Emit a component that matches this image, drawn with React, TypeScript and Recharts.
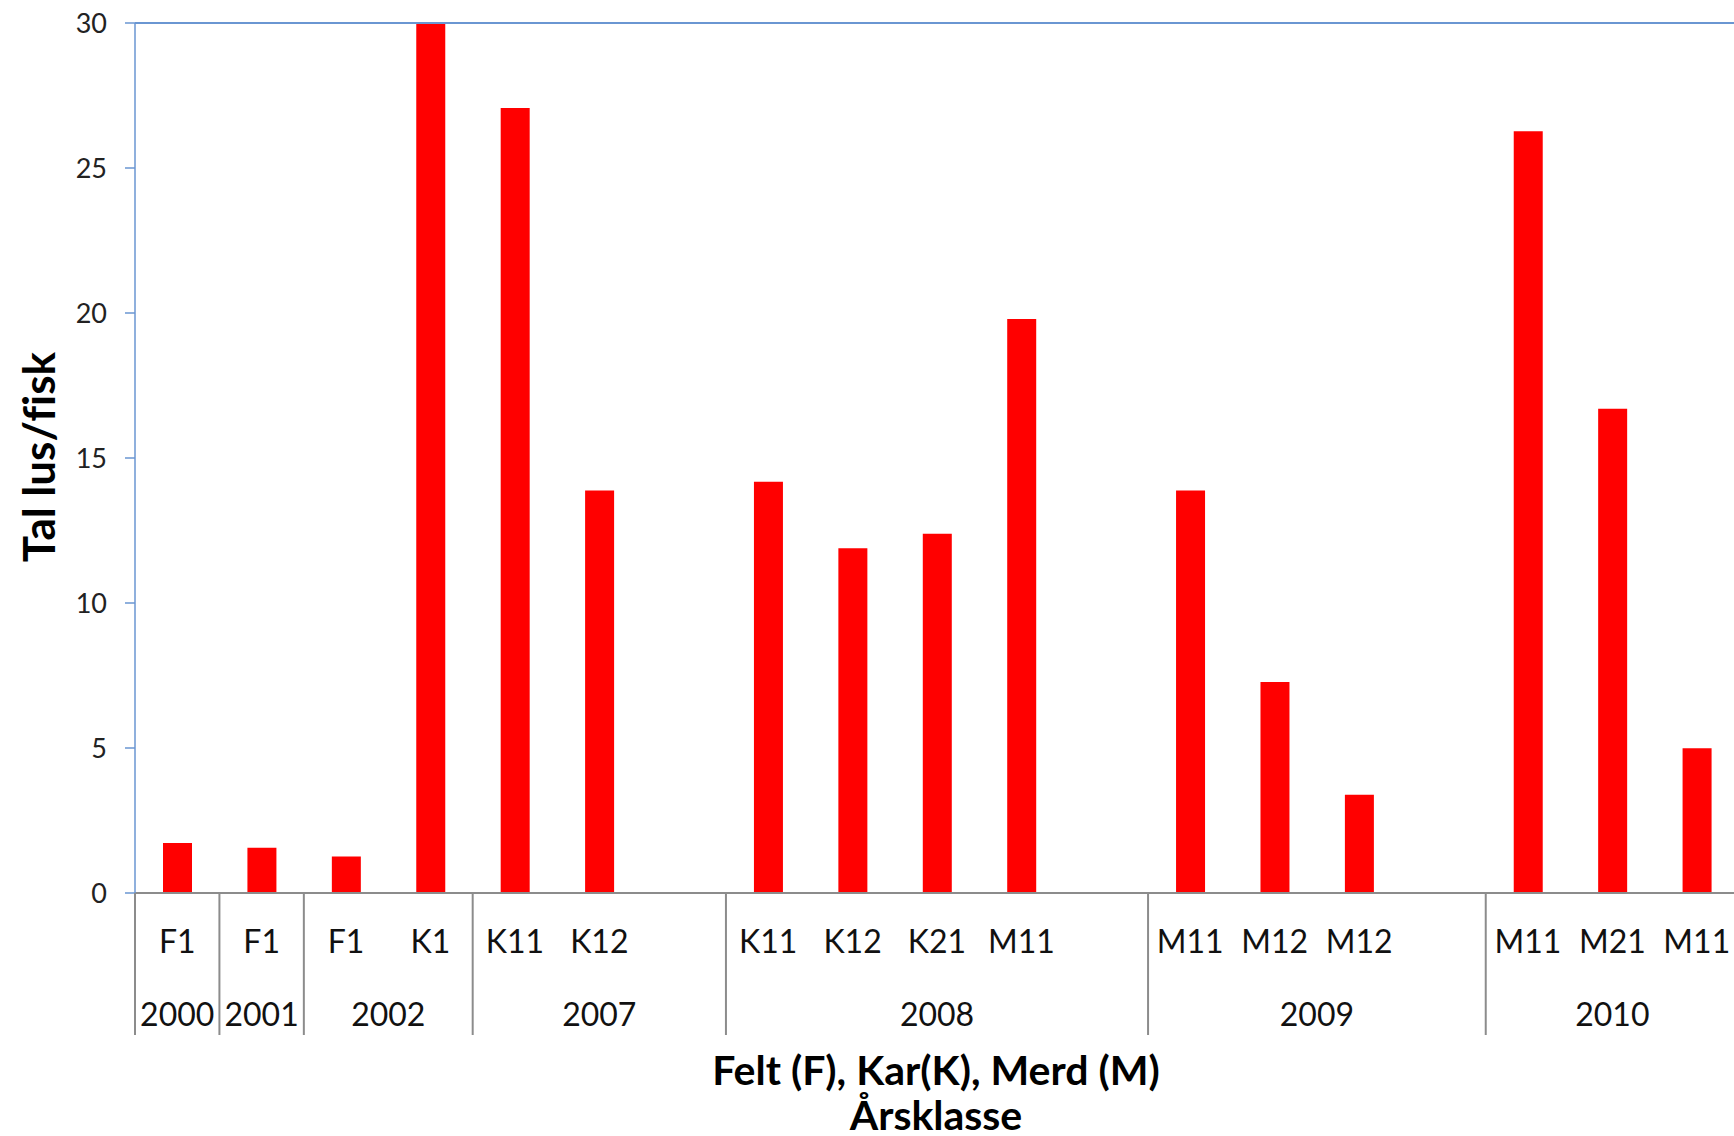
import React from 'react';
import { BarChart, Bar, XAxis, YAxis, ReferenceLine } from 'recharts';

// category labels (first row under the axis)
const labels = ['F1', 'F1', 'F1', 'K1', 'K11', 'K12', '', 'K11', 'K12', 'K21', 'M11', '', 'M11', 'M12', 'M12', '', 'M11', 'M21', 'M11'];
// year class for each category (second row)
const years = ['2000', '2001', '2002', '2002', '2007', '2007', '2007', '2008', '2008', '2008', '2008', '2008', '2009', '2009', '2009', '2009', '2010', '2010', '2010'];
// lice per fish
const values = [1.72, 1.56, 1.26, 30, 27.07, 13.88, null, 14.18, 11.89, 12.39, 19.79, null, 13.88, 7.28, 3.39, null, 26.27, 16.7, 4.99];
const yTicks = [0, 5, 10, 15, 20, 25, 30];

const data = labels.map((label, i) => ({ id: i, label, year: years[i], value: values[i] }));

const CHART_W = 1745;
const CHART_H = 1136;
const MARGIN = { top: 23, right: 6, bottom: 93, left: 55 };
const Y_AXIS_W = 80;
const PLOT_W = CHART_W - MARGIN.left - MARGIN.right - Y_AXIS_W;
const SLOT = PLOT_W / labels.length;

const FONT = 'Lato, "Open Sans", sans-serif';
const GREY = '#8c8c8c';
const BLUE = '#6a96d2';
const NO_LIGA = { fontVariantLigatures: 'none' } as React.CSSProperties;

const XTick = (props: any) => {
  const { x, y, payload } = props;
  const i = payload.value as number;
  const isStart = i === 0 || years[i] !== years[i - 1];
  let groupLen = 0;
  if (isStart) {
    let j = i;
    while (j < years.length && years[j] === years[i]) { j++; groupLen++; }
  }
  const left = x - SLOT / 2;
  return (
    <g>
      <text x={x} y={y + 47} textAnchor="middle" dominantBaseline="central" fontSize={32} fontFamily={FONT} fill="#111">
        {labels[i]}
      </text>
      {isStart && (
        <>
          <line x1={left} x2={left} y1={y} y2={y + 142} stroke={GREY} strokeWidth={2} />
          <text x={left + (groupLen * SLOT) / 2} y={y + 120} textAnchor="middle" dominantBaseline="central" fontSize={32} fontFamily={FONT} fill="#111">
            {years[i]}
          </text>
        </>
      )}
    </g>
  );
};

const App: React.FC = () => {
  return (
    <div style={{ position: 'fixed', left: 0, top: 0, width: 1734, height: 1136, overflow: 'hidden', background: '#fff' }}>
      <BarChart width={CHART_W} height={CHART_H} data={data} margin={MARGIN} barCategoryGap={0}>
        <XAxis
          dataKey="id"
          type="category"
          height={150}
          interval={0}
          tickSize={0}
          tickMargin={0}
          tickLine={false}
          axisLine={{ stroke: GREY, strokeWidth: 2 }}
          tick={<XTick />}
        />
        <YAxis
          width={Y_AXIS_W}
          domain={[0, 30]}
          ticks={yTicks}
          interval={0}
          tickSize={10}
          tickMargin={18}
          axisLine={{ stroke: BLUE, strokeWidth: 1.5 }}
          tickLine={{ stroke: BLUE, strokeWidth: 1.5 }}
          tick={{ fontSize: 27, fontFamily: FONT, fill: '#222' }}
        />
        <ReferenceLine y={30} stroke={BLUE} strokeWidth={2} />
        <Bar dataKey="value" fill="#ff0000" barSize={29} isAnimationActive={false} />
      </BarChart>
      <svg width={1734} height={1136} style={{ position: 'absolute', left: 0, top: 0, pointerEvents: 'none' }}>
        <text x={55} y={457} transform="rotate(-90 55 457)" textAnchor="middle" fontSize={44} fontWeight="bold" fontFamily={FONT} fill="#000" style={NO_LIGA}>
          Tal lus/fisk
        </text>
        <text x={936} y={1085} textAnchor="middle" fontSize={41} fontWeight="bold" fontFamily={FONT} fill="#000">
          Felt (F), Kar(K), Merd (M)
        </text>
        <text x={936} y={1130} textAnchor="middle" fontSize={41} fontWeight="bold" fontFamily={FONT} fill="#000">
          Årsklasse
        </text>
      </svg>
    </div>
  );
};

export default App;
